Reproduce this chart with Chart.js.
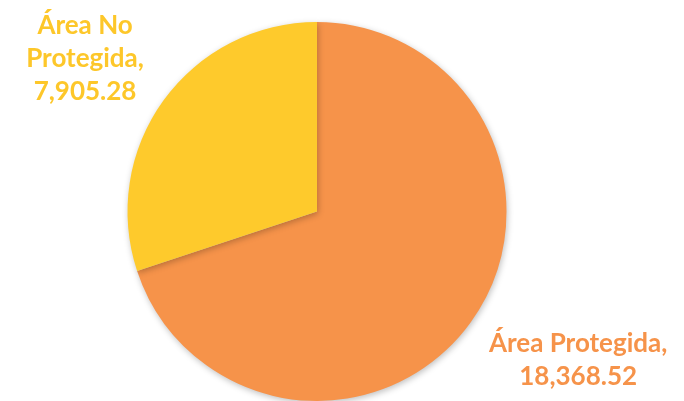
<!DOCTYPE html>
<html>
<head>
<meta charset="utf-8">
<script src="https://cdn.jsdelivr.net/npm/chart.js@4/dist/chart.umd.min.js"></script>
<style>
  html, body { margin: 0; padding: 0; background: #fff; }
  #wrap { width: 684px; height: 401px; position: relative; }
</style>
</head>
<body>
<div id="wrap"><canvas id="pieChart"></canvas></div>
<script>
var categories = ['Área Protegida', 'Área No Protegida'];
var areaValues = [18368.52, 7905.28];
var sliceColors = ['#F6934A', '#FECA2C'];
var labelColors = ['#F6934A', '#FDC72A'];

function fmt(v) {
    return v.toLocaleString('en-US', { minimumFractionDigits: 2, maximumFractionDigits: 2 });
}

// label lines per slice, as shown next to the pie
var labelLines = [
    [categories[0] + ',', fmt(areaValues[0])],
    ['Área No', 'Protegida,', fmt(areaValues[1])]
];
// how far out along the slice's mid angle each label sits (x, y factors of radius)
var labelReach = [[1.70, 1.34], [1.51, 1.38]];

// soft shadow under the pie
var shadowPlugin = {
    id: 'pieShadow',
    beforeDatasetDraw: function (chart) {
        var ctx = chart.ctx;
        ctx.save();
        ctx.shadowColor = 'rgba(0,0,0,0.25)';
        ctx.shadowBlur = 6;
        ctx.shadowOffsetX = 1;
        ctx.shadowOffsetY = 2;
    },
    afterDatasetDraw: function (chart) {
        chart.ctx.restore();
    }
};

// outside labels, anchored on each arc's position
var outsideLabels = {
    id: 'outsideLabels',
    afterDraw: function (chart) {
        var ctx = chart.ctx;
        var meta = chart.getDatasetMeta(0);
        ctx.save();
        ctx.font = 'bold 26px Lato, "Open Sans", sans-serif';
        ctx.textAlign = 'center';
        ctx.textBaseline = 'middle';
        meta.data.forEach(function (arc, i) {
            var mid = (arc.startAngle + arc.endAngle) / 2;
            var r = arc.outerRadius;
            var cx = arc.x + r * labelReach[i][0] * Math.cos(mid);
            var cy = arc.y + r * labelReach[i][1] * Math.sin(mid);
            ctx.fillStyle = labelColors[i];
            var lh = 33;
            var lines = labelLines[i];
            var top = cy - (lines.length - 1) * lh / 2;
            lines.forEach(function (t, k) {
                ctx.fillText(t, cx, top + k * lh);
            });
        });
        ctx.restore();
    }
};

var ctx = document.getElementById('pieChart').getContext('2d');
var pieChart = new Chart(ctx, {
    type: 'pie',
    data: {
        labels: categories,
        datasets: [{
            data: areaValues,
            backgroundColor: sliceColors,
            borderWidth: 0
        }]
    },
    options: {
        responsive: true,
        maintainAspectRatio: false,
        animation: false,
        layout: { padding: { top: 22, bottom: 0, left: 0, right: 50 } },
        plugins: {
            legend: { display: false },
            tooltip: { enabled: false }
        }
    },
    plugins: [shadowPlugin, outsideLabels]
});
</script>
</body>
</html>
